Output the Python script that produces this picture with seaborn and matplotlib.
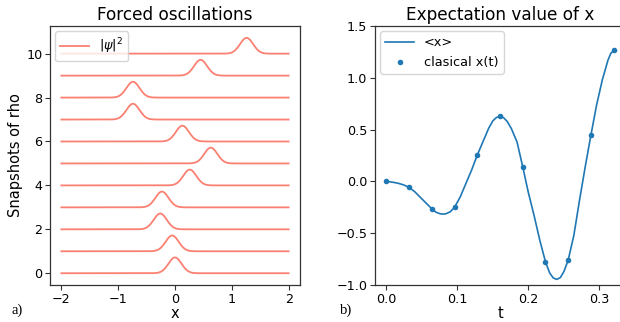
import numpy as np
import pandas as pd
import matplotlib
matplotlib.use("Agg")
import matplotlib.pyplot as plt
import seaborn as sns

# ---- data: left panel (packet centres of |psi|^2 snapshots) ----
snapshot_index = [0, 1, 2, 3, 4, 5, 6, 7, 8, 9, 10]
packet_centres = [0.0, -0.05, -0.26, -0.23, 0.26, 0.63, 0.13, -0.74, -0.74, 0.45, 1.26]
packet_height = 0.72
packet_width = 0.115
x_grid = np.linspace(-2, 2, 400)

# ---- data: right panel ----
t_classical = [0.0, 0.032, 0.064, 0.096, 0.128, 0.16, 0.192, 0.224, 0.256, 0.288, 0.32]
x_classical = [0.0, -0.058, -0.264, -0.25, 0.254, 0.627, 0.141, -0.776, -0.76, 0.447, 1.264]

t_expect = [0.0, 0.008, 0.016, 0.024, 0.032, 0.040, 0.048, 0.056, 0.064, 0.070,
            0.076, 0.080, 0.084, 0.090, 0.096, 0.104, 0.112, 0.120, 0.128, 0.136,
            0.144, 0.150, 0.155, 0.160, 0.165, 0.170, 0.176, 0.184, 0.192, 0.200,
            0.208, 0.216, 0.224, 0.230, 0.235, 0.240, 0.245, 0.250, 0.256, 0.264,
            0.272, 0.280, 0.288, 0.296, 0.304, 0.312, 0.316, 0.320]
x_expect = [0.0, -0.007, -0.017, -0.033, -0.058, -0.10, -0.155, -0.21, -0.264, -0.298,
            -0.313, -0.316, -0.312, -0.293, -0.25, -0.15, -0.02, 0.109, 0.254, 0.383,
            0.512, 0.585, 0.617, 0.627, 0.615, 0.58, 0.51, 0.38, 0.141, -0.11,
            -0.33, -0.567, -0.776, -0.885, -0.932, -0.946, -0.928, -0.87, -0.76, -0.52,
            -0.18, 0.141, 0.447, 0.737, 0.978, 1.17, 1.235, 1.264]

plt.rcParams["font.family"] = ["DejaVu Sans"]
plt.rcParams["axes.linewidth"] = 0.8

fig = plt.figure(figsize=(6.2, 3.22), dpi=100)
ax1 = fig.add_axes([50 / 620, 37 / 322, 250 / 620, 259 / 322])
ax2 = fig.add_axes([375 / 620, 37 / 322, 250 / 620, 259 / 322])

# left panel
rows = []
for idx, c in zip(snapshot_index, packet_centres):
    rho = idx + packet_height * np.exp(-(x_grid - c) ** 2 / (2 * packet_width ** 2))
    rows.append(pd.DataFrame({"x": x_grid, "y": rho, "snap": idx}))
df = pd.concat(rows)
sns.lineplot(data=df, x="x", y="y", units="snap", estimator=None, color="salmon",
             lw=1.3, ax=ax1, legend=False)
ax1.plot([], [], color="salmon", lw=1.3, label=r"$|\psi|^2$")
ax1.set_xlim(-2.2, 2.2)
ax1.set_ylim(-0.536, 11.26)
ax1.set_xticks([-2, -1, 0, 1, 2])
ax1.set_xticklabels(["\u22122", "\u22121", "0", "1", "2"])
ax1.set_yticks([0, 2, 4, 6, 8, 10])
ax1.set_title("Forced oscillations", fontsize=12.2, pad=4)
ax1.set_xlabel("x", fontsize=10.5, labelpad=0)
ax1.set_ylabel("Snapshots of rho", fontsize=10.5, labelpad=2)
ax1.legend(loc="upper left", fontsize=9.3, handlelength=2.2, borderpad=0.4,
           frameon=True, borderaxespad=0.4)

# right panel
sns.lineplot(x=t_expect, y=x_expect, color="#1f77b4", lw=1.2, ax=ax2, label="<x>")
sns.scatterplot(x=t_classical, y=x_classical, color="#1f77b4", s=16, linewidth=0,
                ax=ax2, label="clasical x(t)", zorder=3)
ax2.set_xlim(-0.016, 0.336)
ax2.set_ylim(-1.0, 1.5)
ax2.set_xticks([0.0, 0.1, 0.2, 0.3])
ax2.set_yticks([-1.0, -0.5, 0.0, 0.5, 1.0, 1.5])
ax2.set_yticklabels(["\u22121.0", "\u22120.5", "0.0", "0.5", "1.0", "1.5"])
ax2.set_title("Expectation value of x", fontsize=12.2, pad=4)
ax2.set_xlabel("t", fontsize=10.5, labelpad=0)
ax2.set_ylabel("")
ax2.legend(loc="upper left", fontsize=9.3, handlelength=2.2, borderpad=0.4,
           frameon=True, borderaxespad=0.4)

for ax in (ax1, ax2):
    ax.set_facecolor("white")
    ax.grid(False)
    ax.tick_params(labelsize=9.2, length=3.5, width=0.8, pad=2,
                   color="#333333", labelcolor="black")
    for sp in ax.spines.values():
        sp.set_visible(True)
        sp.set_color("#333333")
        sp.set_linewidth(0.9)
        sp.set_zorder(5)

fig.text(12 / 620, 1 - 314 / 322, "a)", family=["Liberation Serif"], fontsize=10.5)
fig.text(340 / 620, 1 - 314 / 322, "b)", family=["Liberation Serif"], fontsize=10.5)

fig.savefig("out.png", dpi=100, facecolor="white")
